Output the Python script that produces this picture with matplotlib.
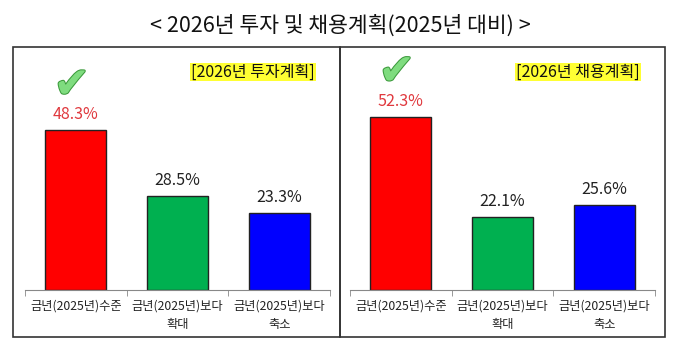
import matplotlib
matplotlib.use("Agg")
import matplotlib.pyplot as plt
import matplotlib.patheffects as pe
from matplotlib.patches import Rectangle

plt.rcParams["font.family"] = ["Noto Sans CJK KR", "DejaVu Sans"]

categories = ["금년(2025년)수준", "금년(2025년)보다\n확대", "금년(2025년)보다\n축소"]
invest = [48.3, 28.5, 23.3]
hiring = [52.3, 22.1, 25.6]
panel_titles = ["[2026년 투자계획]", "[2026년 채용계획]"]
title = "< 2026년 투자 및 채용계획(2025년 대비) >"
bar_colors = ["#ff0000", "#00b050", "#0000ff"]
label_colors = ["#e0393e", "#222222", "#222222"]

W, H = 680, 354
fig = plt.figure(figsize=(W / 100, H / 100), dpi=100)

fig.text(0.5, 1 - 26 / H, title, ha="center", va="center", fontsize=15.5, color="#111111")

# outer boxes
for x0, x1 in [(13, 340), (340, 665)]:
    fig.patches.append(Rectangle((x0 / W, 1 - 337 / H), (x1 - x0) / W, (337 - 47) / H,
                                 transform=fig.transFigure, fill=False, edgecolor="#333333", lw=1.2))

ymax = (290 - 50) / 3.31
for left, vals, ptitle in [(25, invest, panel_titles[0]), (350, hiring, panel_titles[1])]:
    ax = fig.add_axes([left / W, 1 - 290 / H, 305 / W, (290 - 50) / H])
    x = range(len(vals))
    ax.bar(x, vals, width=0.6, color=bar_colors, edgecolor="#222222", lw=1.0)
    for xi, v, c in zip(x, vals, label_colors):
        ax.annotate(f"{v:.1f}%", (xi, v), xytext=(0, 5), textcoords="offset points",
                    ha="center", va="bottom", fontsize=11.5, color=c)
    # check mark above the top bar
    top = max(range(len(vals)), key=lambda i: vals[i])
    ax.annotate("\u2714", (top, vals[top]), xytext=(-3, 17), textcoords="offset points",
                ha="center", va="bottom", fontsize=31, color="#7fdc7f", family="DejaVu Sans",
                path_effects=[pe.withStroke(linewidth=1.5, foreground="#3c9a3c")])
    ax.text(0.95, 1 - 22 / 240, ptitle, transform=ax.transAxes, ha="right", va="center",
            fontsize=11.5, color="#111111",
            bbox=dict(boxstyle="square,pad=0.05", facecolor="#ffff33", edgecolor="none"))
    ax.set_xlim(-0.5, 2.5)
    ax.set_ylim(0, ymax)
    for s in ["top", "right", "left"]:
        ax.spines[s].set_visible(False)
    ax.spines["bottom"].set_color("#888888")
    ax.set_yticks([])
    ax.set_xticks(list(x))
    ax.set_xticklabels(categories, fontsize=8.8, color="#222222", linespacing=1.55,
                       fontweight="medium")
    ax.tick_params(axis="x", which="major", length=0, pad=7)
    ax.set_xticks([-0.5, 0.5, 1.5, 2.5], minor=True)
    ax.tick_params(axis="x", which="minor", length=4, color="#888888")

fig.savefig("out.png", dpi=100)
